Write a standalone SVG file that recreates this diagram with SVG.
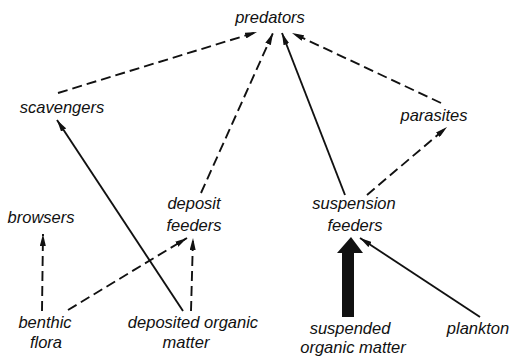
<svg xmlns="http://www.w3.org/2000/svg" width="511" height="364" viewBox="0 0 511 364">
<style>
text{font-family:"Liberation Sans",Arial,sans-serif;font-style:italic;font-size:16.5px;fill:#111;text-anchor:middle}
.l{stroke:#111;stroke-width:1.9;fill:none}
.d{stroke-dasharray:10 5}
</style>
<defs>
<marker id="ah" viewBox="0 0 12 6" refX="12" refY="3" markerWidth="12" markerHeight="6" markerUnits="userSpaceOnUse" orient="auto">
<path d="M0,0 L12,3 L0,6 z" fill="#111"/>
</marker>
</defs>
<rect width="511" height="364" fill="#fff"/>
<g id="connectors">
<line class="l d" x1="58" y1="93" x2="257" y2="32" marker-end="url(#ah)"/>
<line class="l d" x1="201" y1="193" x2="273" y2="33" marker-end="url(#ah)"/>
<line class="l" x1="345" y1="195" x2="282" y2="33" marker-end="url(#ah)"/>
<line class="l d" x1="441" y1="103" x2="292" y2="33" marker-end="url(#ah)"/>
<line class="l d" x1="367" y1="195" x2="447" y2="127" marker-end="url(#ah)"/>
<line class="l" x1="183" y1="311" x2="57" y2="120" marker-end="url(#ah)"/>
<line class="l d" x1="42" y1="311" x2="43" y2="234" marker-end="url(#ah)"/>
<line class="l d" x1="68" y1="310" x2="187" y2="238" marker-end="url(#ah)"/>
<line class="l d" x1="191" y1="311" x2="193" y2="238" marker-end="url(#ah)"/>
<line class="l" x1="480" y1="317" x2="360" y2="238" marker-end="url(#ah)"/>
<polygon points="342,317 342,253 337,253 351,237 363,253 354,253 354,317" fill="#111"/>
</g>
<g id="predators"><text x="270" y="23">predators</text></g>
<g id="scavengers"><text x="62" y="113">scavengers</text></g>
<g id="parasites"><text x="434" y="121">parasites</text></g>
<g id="browsers"><text x="41" y="223">browsers</text></g>
<g id="deposit-feeders"><text x="194" y="209">deposit</text><text x="194" y="231">feeders</text></g>
<g id="suspension-feeders"><text x="354" y="209">suspension</text><text x="355" y="231">feeders</text></g>
<g id="benthic-flora"><text x="45" y="328">benthic</text><text x="46" y="348">flora</text></g>
<g id="deposited-organic-matter"><text x="193" y="328">deposited organic</text><text x="186" y="348">matter</text></g>
<g id="suspended-organic-matter"><text x="350" y="334">suspended</text><text x="353" y="353">organic matter</text></g>
<g id="plankton"><text x="478" y="334">plankton</text></g>
</svg>
